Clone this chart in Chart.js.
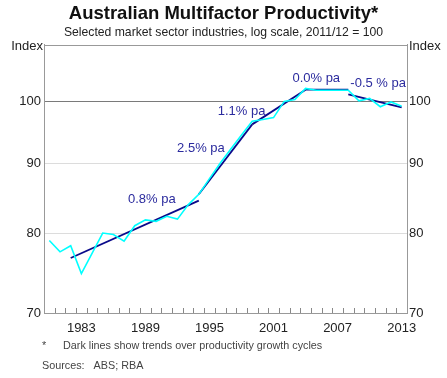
<!DOCTYPE html>
<html>
<head>
<meta charset="utf-8">
<script src="https://cdn.jsdelivr.net/npm/chart.js@4.4.1/dist/chart.umd.min.js"></script>
<style>
    html, body { margin: 0; padding: 0; background: #fff; }
    #wrap { width: 447px; height: 378px; }
</style>
</head>
<body>
<div id="wrap"><canvas id="mfpChart" width="447" height="378"></canvas></div>
<script>
// annual index, 2011/12 = 100
var years = ['1980', '1981', '1982', '1983', '1984', '1985', '1986', '1987', '1988', '1989',
    '1990', '1991', '1992', '1993', '1994', '1995', '1996', '1997', '1998', '1999',
    '2000', '2001', '2002', '2003', '2004', '2005', '2006', '2007', '2008', '2009',
    '2010', '2011', '2012', '2013'];
var mfpIndex = [79.1, 77.6, 78.4, 74.8, 77.4, 80.1, 79.9, 79.0, 81.1, 81.9,
    81.7, 82.4, 82.0, 84.0, 85.5, 87.8, 90.1, 92.3, 94.5, 96.7,
    97.0, 97.3, 100.0, 100.3, 102.2, 101.9, 101.9, 101.9, 101.9, 100.1,
    100.5, 99.1, 99.9, 99.2];
var labelledYears = ['1983', '1989', '1995', '2001', '2007', '2013'];
var yTicks = [70, 80, 90, 100];

// trend lines over productivity growth cycles
var trendYears = [['1982', '1994'], ['1994', '1999'], ['1999', '2004'], ['2004', '2008'], ['2008', '2013']];
var trendValues = [[76.8, 84.6], [85.5, 96.2], [96.2, 102.0], [102.0, 102.0], [101.2, 99.0]];
var trendText = ['0.8% pa', '2.5% pa', '1.1% pa', '0.0% pa', '-0.5 % pa'];
var trendTextYear = [1989.6, 1994.2, 1998.0, 2005.0, 2010.8];
var trendTextValue = [84.7, 92.4, 98.3, 104.0, 103.1];

var Color = {
    Cyan: '#00ffff',
    Navy: '#0a0a8a',
    Label: '#2b2b9e',
    Text: '#222222',
    Frame: '#999999',
};

var FONT = 'Arial, "Liberation Sans", sans-serif';

function getTrendDataSet(index) {
    return {
        label: trendText[index],
        data: trendYears[index].map((yr, j) => ({ x: yr, y: trendValues[index][j] })),
        borderColor: Color.Navy,
        backgroundColor: Color.Navy,
        borderWidth: 1.8,
        pointRadius: 0,
        fill: false,
        tension: 0,
    };
}

var decorPlugin = {
    id: 'decor',
    afterDatasetsDraw(chart) {
        const ctx = chart.ctx;
        const area = chart.chartArea;
        const xs = chart.scales.x;
        const ys = chart.scales.y;
        ctx.save();

        // small ticks between years
        ctx.strokeStyle = '#888';
        ctx.lineWidth = 1;
        ctx.beginPath();
        for (let i = 1; i < years.length; i++) {
            const px = Math.round(xs.getPixelForValue(i - 0.5)) + 0.5;
            ctx.moveTo(px, area.bottom);
            ctx.lineTo(px, area.bottom - 5);
        }
        ctx.stroke();

        // frame
        ctx.strokeStyle = Color.Frame;
        ctx.strokeRect(Math.round(area.left) + 0.5, Math.round(area.top) + 0.5,
            Math.round(area.right - area.left), Math.round(area.bottom - area.top));

        // trend labels
        ctx.fillStyle = Color.Label;
        ctx.font = '13px ' + FONT;
        ctx.textAlign = 'center';
        ctx.textBaseline = 'middle';
        trendText.forEach((t, i) => {
            ctx.fillText(t, xs.getPixelForValue(trendTextYear[i] - 1980), ys.getPixelForValue(trendTextValue[i]));
        });

        // unit labels
        ctx.fillStyle = Color.Text;
        ctx.textAlign = 'right';
        ctx.fillText('Index', area.left - 1, area.top + 2);
        ctx.textAlign = 'left';
        ctx.fillText('Index', area.right + 2, area.top + 2);

        // footnotes
        ctx.font = '10.8px ' + FONT;
        ctx.fillStyle = '#444';
        ctx.fillText('*', 42, 346);
        ctx.fillText('Dark lines show trends over productivity growth cycles', 63, 346);
        ctx.fillText('Sources:   ABS; RBA', 42, 366);
        ctx.restore();
    },
};

function renderChart() {
    var ctx = document.getElementById('mfpChart').getContext('2d');
    var datasets = [{
        label: 'MFP',
        data: mfpIndex,
        borderColor: Color.Cyan,
        backgroundColor: Color.Cyan,
        borderWidth: 1.6,
        pointRadius: 0,
        fill: false,
        tension: 0,
    }];
    trendYears.forEach((t, i) => datasets.push(getTrendDataSet(i)));

    var logAxis = {
        type: 'logarithmic',
        min: 70,
        max: 110,
        afterBuildTicks: (scale) => { scale.ticks = yTicks.map(v => ({ value: v })); },
        ticks: {
            callback: (v) => String(v),
            font: { size: 13, family: FONT },
            color: Color.Text,
        },
        border: { display: true, color: Color.Frame },
    };

    new Chart(ctx, {
        type: 'line',
        data: { labels: years, datasets: datasets },
        options: {
            responsive: false,
            animation: false,
            devicePixelRatio: 1,
            layout: { padding: 0 },
            plugins: {
                legend: { display: false },
                tooltip: { enabled: false },
                title: {
                    display: true,
                    text: 'Australian Multifactor Productivity*',
                    font: { size: 18.5, weight: 'bold', family: FONT },
                    color: '#111',
                    padding: { top: 3, bottom: 0 },
                },
                subtitle: {
                    display: true,
                    text: 'Selected market sector industries, log scale, 2011/12 = 100',
                    font: { size: 12.2, family: FONT },
                    color: Color.Text,
                    padding: { top: 0, bottom: 5 },
                },
            },
            scales: {
                x: {
                    type: 'category',
                    offset: true,
                    grid: { display: false, drawTicks: false },
                    border: { display: true, color: Color.Frame },
                    ticks: {
                        autoSkip: false,
                        maxRotation: 0,
                        padding: 8,
                        font: { size: 13, family: FONT },
                        color: Color.Text,
                        callback: (val, i) => (labelledYears.includes(years[i]) ? years[i] : ''),
                    },
                    afterFit: (scale) => { scale.height = 65; },
                },
                y: Object.assign({}, logAxis, {
                    position: 'left',
                    grid: {
                        drawTicks: false,
                        color: (c) => (c.tick && c.tick.value === 100 ? '#7a7a7a' : '#dcdcdc'),
                    },
                    ticks: Object.assign({}, logAxis.ticks, { padding: 3 }),
                    afterFit: (scale) => { scale.width = 44; },
                }),
                y2: Object.assign({}, logAxis, {
                    position: 'right',
                    grid: { drawOnChartArea: false, drawTicks: false },
                    ticks: Object.assign({}, logAxis.ticks, { padding: 2 }),
                    afterFit: (scale) => { scale.width = 40; },
                }),
            },
        },
        plugins: [decorPlugin],
    });
}

renderChart();
</script>
</body>
</html>
